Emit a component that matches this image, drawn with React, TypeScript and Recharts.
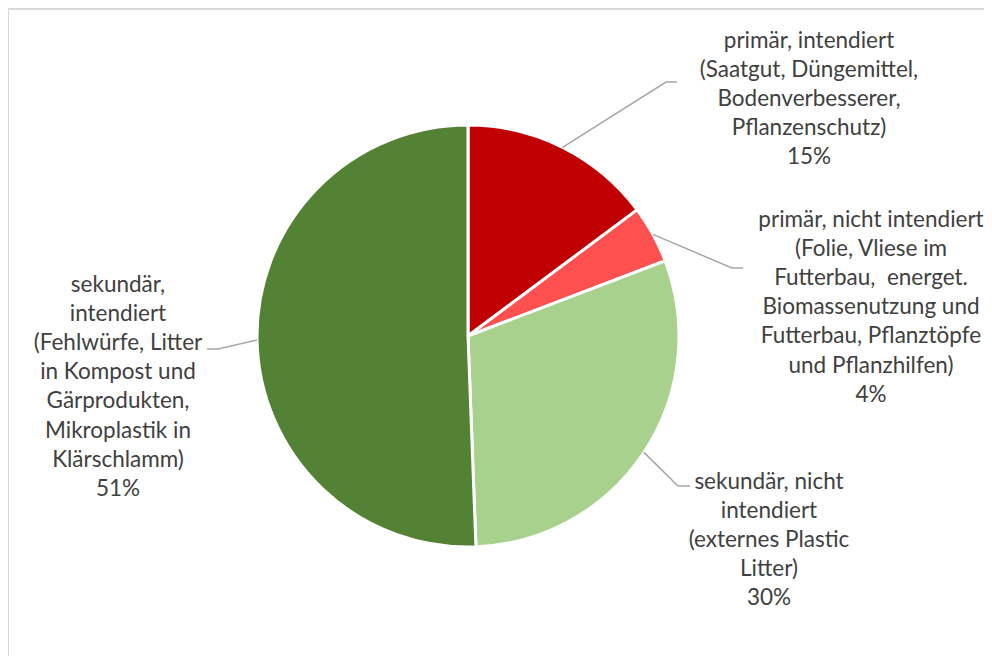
import React from "react";
import { PieChart, Pie, Cell } from "recharts";

// Anteile der Eintragspfade (%)
const categories = [
  "primär, intendiert",
  "primär, nicht intendiert",
  "sekundär, nicht intendiert",
  "sekundär, intendiert",
];
const shares = [14.8, 4.4, 30.2, 50.6];
const colors = ["#C00000", "#FF5050", "#A9D18E", "#548235"];

// Beschriftungszeilen wie im Original umbrochen
const labelLines = [
  ["primär, intendiert", "(Saatgut, Düngemittel,", "Bodenverbesserer,", "Pflanzenschutz)"],
  [
    "primär, nicht intendiert",
    "(Folie, Vliese im",
    "Futterbau,\u00a0 energet.",
    "Biomassenutzung und",
    "Futterbau, Pflanztöpfe",
    "und Pflanzhilfen)",
  ],
  ["sekundär, nicht", "intendiert", "(externes Plastic", "Litter)"],
  [
    "sekundär,",
    "intendiert",
    "(Fehlwürfe, Litter",
    "in Kompost und",
    "Gärprodukten,",
    "Mikroplastik in",
    "Klärschlamm)",
  ],
];

// Lage der Beschriftungen (manuell verschoben wie in Excel)
const labelLayout = [
  { elbowX: 666, elbowY: 82, endX: 677, textX: 809, textY: 39 },
  { elbowX: 732, elbowY: 268, endX: 743, textX: 871, textY: 218 },
  { elbowX: 678, elbowY: 486, endX: 690, textX: 769, textY: 480 },
  { elbowX: 218, elbowY: 349, endX: 207, textX: 118, textY: 283 },
];

const data = categories.map((name, i) => ({ name, value: shares[i] }));

const RAD = Math.PI / 180;
const LINE_H = 29.2;

const renderLabel = (props: any) => {
  const { cx, cy, midAngle, outerRadius, index, percent } = props;
  const lay = labelLayout[index];
  const sx = cx + outerRadius * Math.cos(-midAngle * RAD);
  const sy = cy + outerRadius * Math.sin(-midAngle * RAD);
  const lines = [...labelLines[index], `${Math.round(percent * 100)}%`];
  return (
    <g key={`lbl-${index}`}>
      <polyline
        points={`${sx},${sy} ${lay.elbowX},${lay.elbowY} ${lay.endX},${lay.elbowY}`}
        fill="none"
        stroke="#A6A6A6"
        strokeWidth={1.5}
      />
      <text
        x={lay.textX}
        y={lay.textY}
        textAnchor="middle"
        fill="#404040"
        style={{ fontFamily: "Lato, 'Open Sans', sans-serif", fontSize: 22.5 }}
      >
        {lines.map((t, i) => (
          <tspan key={i} x={lay.textX} y={lay.textY + i * LINE_H} dominantBaseline="central">
            {t}
          </tspan>
        ))}
      </text>
    </g>
  );
};

export default function App() {
  return (
    <div style={{ width: 984, height: 648, position: "relative" }}>
      <div style={{ position: "absolute", left: -8, top: -8 }}>
        <PieChart width={992} height={656} margin={{ top: 0, right: 0, bottom: 0, left: 0 }}>
          <Pie
            data={data}
            dataKey="value"
            nameKey="name"
            cx={468}
            cy={336}
            outerRadius={211}
            startAngle={90}
            endAngle={-270}
            stroke="#fff"
            strokeWidth={3}
            label={renderLabel}
            labelLine={false}
            isAnimationActive={false}
          >
            {data.map((d, i) => (
              <Cell key={d.name} fill={colors[i]} />
            ))}
          </Pie>
        </PieChart>
      </div>
      {/* Rahmen des Diagrammbereichs (rechts/unten außerhalb des Bildes) */}
      <div style={{ position: "absolute", left: -1, top: 0, width: 985, height: 2, background: "#D9D9D9" }} />
      <div style={{ position: "absolute", left: -1, top: 0, width: 2, height: 648, background: "#D9D9D9" }} />
    </div>
  );
}
